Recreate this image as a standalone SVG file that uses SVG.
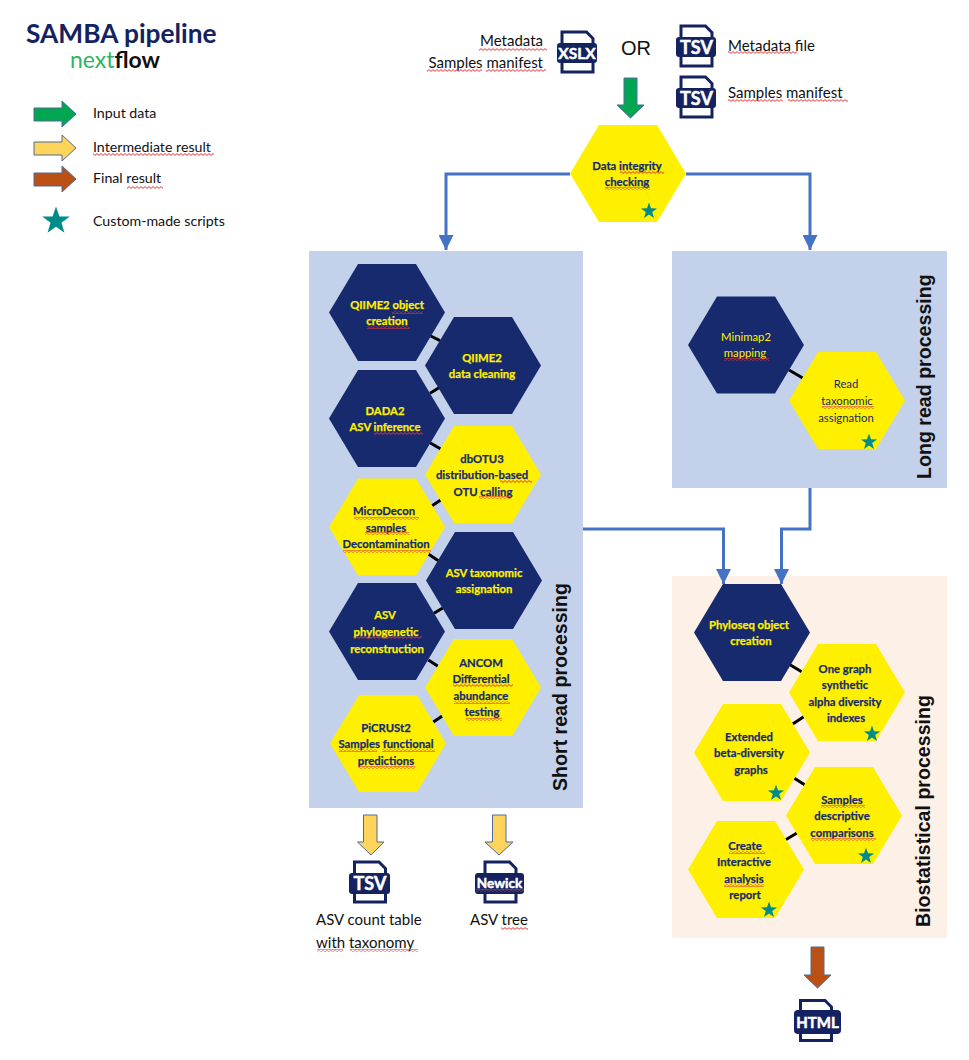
<svg xmlns="http://www.w3.org/2000/svg" xmlns:xlink="http://www.w3.org/1999/xlink" width="969" height="1060" viewBox="0 0 969 1060">
<style>
text{font-family:"Lato","Open Sans","Liberation Sans",sans-serif}
.hn{fill:#172a6e}.hy{fill:#fff000}
.t{font-size:11.3px;font-weight:700;text-anchor:middle;stroke-width:.25}
.tn{fill:#172a6e;stroke:#172a6e}.ty{fill:#fff000;stroke:#fff000}
.r{font-weight:400;stroke-width:0}
.lab{font-size:14.2px;fill:#111}
.lg{font-size:15px;fill:#111}
.side{font-family:"Liberation Sans",Arial,sans-serif;font-weight:700;font-size:19.6px;fill:#111}
.blue{fill:none;stroke:#4472c4;stroke-width:3;marker-end:url(#ah)}
.link{stroke:#000;stroke-width:3;fill:none}
.arr{stroke:#4c6a9c;stroke-width:1}
.pg{fill:#fff;stroke:#14235f;stroke-width:3}
.bd{fill:#14235f}
.ic{fill:#fff;stroke:#fff;stroke-width:.5;font-weight:700;text-anchor:middle}
.star{fill:#008b8b}
.sq{fill:url(#wave)}
</style>
<defs>
<marker id="ah" markerUnits="userSpaceOnUse" markerWidth="15" markerHeight="15" refX="15" refY="7.5" orient="auto"><path d="M0 0L15 7.5L0 15Z" fill="#4472c4"/></marker>
<pattern id="wave" patternUnits="userSpaceOnUse" width="4" height="3"><path d="M0 1.5L1 .6L3 2.4L4 1.5" fill="none" stroke="#e8323a" stroke-width="1"/></pattern>
<path id="hex" d="M-58 0L-29 -48.5H29L58 0L29 48.5H-29Z"/>
<path id="st" d="M0 -8.500L2 -2.700L8.100 -2.600L3.200 1L5 6.900L0 3.400L-5 6.900L-3.200 1L-8.100 -2.600L-2 -2.700Z" class="star"/>
<path id="pgi" d="M-15.500 -20H9L15.500 -13.500V20H-15.500Z" class="pg"/>
</defs>
<rect width="969" height="1060" fill="#fff"/>

<g id="panels">
<rect x="309" y="251" width="274" height="557" fill="#c3d1ea"/>
<rect x="672" y="251" width="275" height="237" fill="#c3d1ea"/>
<rect x="672" y="576" width="275" height="362" fill="#fdf0e7"/>
<text class="side" transform="translate(566.500 791) rotate(-90)">Short read processing</text>
<text class="side" transform="translate(931 479) rotate(-90)">Long read processing</text>
<text class="side" transform="translate(930 927) rotate(-90)">Biostatistical processing</text>
</g>

<g id="title">
<text x="26" y="43" font-size="26.300" font-weight="700" fill="#14235f">SAMBA pipeline</text>
<text x="70" y="68" font-size="23" font-weight="700" fill="#111"><tspan fill="#2fb464" font-weight="400">next</tspan>flow</text>
</g>

<g id="legend">
<path class="arr" fill="#00a650" d="M34 108H62V101L76 114L62 127V121H34Z"/>
<path class="arr" fill="#ffd45a" d="M34 142H62V135L76 148L62 161V155H34Z"/>
<path class="arr" fill="#bb5014" d="M34 173H62V166L76 179L62 192V186H34Z"/>
<use xlink:href="#st" transform="translate(56 221) scale(1.700)"/>
<text class="lab" x="93" y="118">Input data</text>
<text class="lab" x="93" y="152">Intermediate result</text>
<text class="lab" x="93" y="183">Final result</text>
<text class="lab" x="93" y="226">Custom-made scripts</text>
</g>

<g id="connectors">
<path class="blue" d="M570 174H446V250"/>
<path class="blue" d="M686 174H810V250"/>
<path class="blue" d="M583 529H723.500V584"/>
<path class="blue" d="M810 488V529H781.500V584"/>
<path class="link" d="M430.700 336L440 340.700M430 393.300L439 387.700M430 442.700L440.700 449M432 505.700L440.700 500M428.300 554L438.300 560.700M434 613.300L442.700 608M428.300 660L438 666.300M433.300 722L442.300 716M789 370L802.700 378M790 664.700L802 672M792.700 724L803.700 716.700M794 778L805 785M785.700 839.700L797 833"/>
</g>

<g id="inputs">
<text class="lg" x="543" y="46" text-anchor="end">Metadata</text>
<text class="lg" x="543" y="68" text-anchor="end">Samples manifest</text>
<g id="icon-xslx" transform="translate(577.500 52)"><use xlink:href="#pgi"/><rect class="bd" x="-20.500" y="-9" width="40" height="20" rx="3"/><text class="ic" y="6.500" x="-.5" font-size="15.500">XSLX</text></g>
<text x="621" y="55" font-size="20" fill="#111" style="font-family:'Liberation Sans',sans-serif">OR</text>
<g id="icon-tsv1" transform="translate(696.500 46)"><use xlink:href="#pgi"/><rect class="bd" x="-20.500" y="-9" width="40" height="20" rx="3"/><text class="ic" y="7.500" font-size="18">TSV</text></g>
<g id="icon-tsv2" transform="translate(696.500 97)"><use xlink:href="#pgi"/><rect class="bd" x="-20.500" y="-9" width="40" height="20" rx="3"/><text class="ic" y="7.500" font-size="18">TSV</text></g>
<text class="lg" x="728" y="51">Metadata file</text>
<text class="lg" x="728" y="98">Samples manifest</text>
<path class="arr" fill="#00a650" d="M624 78H637V105H644L630.500 118L617 105H624Z"/>
</g>

<g id="n-integrity"><use xlink:href="#hex" class="hy" x="628" y="173.500"/><text class="t tn" x="627" y="170">Data integrity</text><text class="t tn" x="627" y="186">checking</text><use xlink:href="#st" x="649" y="211"/></g>
<g id="n-qiime-object"><use xlink:href="#hex" class="hn" x="387" y="312.500"/><text class="t ty" x="387" y="309">QIIME2 object</text><text class="t ty" x="387" y="325">creation</text></g>
<g id="n-qiime-clean"><use xlink:href="#hex" class="hn" x="483" y="365.500"/><text class="t ty" x="482" y="362">QIIME2</text><text class="t ty" x="482" y="378">data cleaning</text></g>
<g id="n-dada2"><use xlink:href="#hex" class="hn" x="387" y="418.500"/><text class="t ty" x="385" y="415">DADA2</text><text class="t ty" x="385" y="431">ASV inference</text></g>
<g id="n-dbotu3"><use xlink:href="#hex" class="hy" x="483" y="474.500"/><text class="t tn" x="482" y="463">dbOTU3</text><text class="t tn" x="482" y="479">distribution-based</text><text class="t tn" x="483" y="496">OTU calling</text></g>
<g id="n-microdecon"><use xlink:href="#hex" class="hy" x="387" y="527"/><text class="t tn" x="384" y="515">MicroDecon</text><text class="t tn" x="386" y="532">samples</text><text class="t tn" x="386" y="548">Decontamination</text></g>
<g id="n-taxo"><use xlink:href="#hex" class="hn" x="484" y="580.500"/><text class="t ty" x="484" y="577">ASV taxonomic</text><text class="t ty" x="484" y="593">assignation</text></g>
<g id="n-phylo"><use xlink:href="#hex" class="hn" x="387" y="631.500"/><text class="t ty" x="385" y="619">ASV</text><text class="t ty" x="386" y="636">phylogenetic</text><text class="t ty" x="387" y="653">reconstruction</text></g>
<g id="n-ancom"><use xlink:href="#hex" class="hy" x="483" y="687.500"/><text class="t tn" x="481" y="667">ANCOM</text><text class="t tn" x="481" y="683">Differential</text><text class="t tn" x="481" y="700">abundance</text><text class="t tn" x="482" y="716">testing</text></g>
<g id="n-picrust"><use xlink:href="#hex" class="hy" x="388" y="743.500"/><text class="t tn" x="386" y="732">PiCRUSt2</text><text class="t tn" x="386" y="748">Samples functional</text><text class="t tn" x="386" y="765">predictions</text></g>
<g id="n-minimap"><use xlink:href="#hex" class="hn" x="746" y="345"/><text class="t ty r" x="746" y="341">Minimap2</text><text class="t ty r" x="745" y="357">mapping</text></g>
<g id="n-readtax"><use xlink:href="#hex" class="hy" x="847" y="400.500"/><text class="t tn r" x="846" y="388">Read</text><text class="t tn r" x="847" y="405">taxonomic</text><text class="t tn r" x="846" y="422">assignation</text><use xlink:href="#st" x="869" y="442"/></g>
<g id="n-phyloseq"><use xlink:href="#hex" class="hn" x="752" y="632.500"/><text class="t ty" x="749" y="629">Phyloseq object</text><text class="t ty" x="751" y="645">creation</text></g>
<g id="n-onegraph"><use xlink:href="#hex" class="hy" x="847" y="692.500"/><text class="t tn" x="845" y="673">One graph</text><text class="t tn" x="845" y="689">synthetic</text><text class="t tn" x="845" y="706">alpha diversity</text><text class="t tn" x="846" y="722">indexes</text><use xlink:href="#st" x="872" y="734"/></g>
<g id="n-extended"><use xlink:href="#hex" class="hy" x="752" y="752.500"/><text class="t tn" x="749" y="741">Extended</text><text class="t tn" x="749" y="757">beta-diversity</text><text class="t tn" x="751" y="774">graphs</text><use xlink:href="#st" x="776" y="793"/></g>
<g id="n-samples"><use xlink:href="#hex" class="hy" x="844" y="815.500"/><text class="t tn" x="842" y="804">Samples</text><text class="t tn" x="842" y="820">descriptive</text><text class="t tn" x="842" y="837">comparisons</text><use xlink:href="#st" x="866" y="856"/></g>
<g id="n-report"><use xlink:href="#hex" class="hy" x="746" y="869.500"/><text class="t tn" x="745" y="850">Create</text><text class="t tn" x="744" y="866">Interactive</text><text class="t tn" x="744" y="883">analysis</text><text class="t tn" x="745" y="899">report</text><use xlink:href="#st" x="769" y="910"/></g>

<g id="outputs">
<path class="arr" fill="#ffd45a" d="M363.500 815H377V842H384L371 855L357.500 842H363.500Z"/>
<path class="arr" fill="#ffd45a" d="M492.500 815H506V842H513L499 855L485 842H492.500Z"/>
<path class="arr" fill="#bb5014" d="M811 947H824V975H831L817.500 988L804 975H811Z"/>
<g id="icon-tsv3" transform="translate(370 882)"><use xlink:href="#pgi"/><rect class="bd" x="-21" y="-9" width="41" height="21" rx="3"/><text class="ic" y="8" font-size="18">TSV</text></g>
<g id="icon-newick" transform="translate(500.500 882)"><use xlink:href="#pgi"/><rect class="bd" x="-25.500" y="-9" width="49" height="21" rx="3"/><text class="ic" y="6" x="-1" font-size="13.500">Newick</text></g>
<g id="icon-html" transform="translate(816 1020.500)"><use xlink:href="#pgi"/><rect class="bd" x="-22" y="-10.500" width="47" height="24" rx="4"/><text class="ic" y="7" x="1.500" font-size="15">HTML</text></g>
<text class="lg" x="316" y="925">ASV count table</text>
<text class="lg" x="316" y="948">with taxonomy</text>
<text class="lg" x="470" y="925">ASV tree</text>
</g>

<g id="spellcheck-marks">
<rect class="sq" x="93" y="153" width="121" height="3"/><rect class="sq" x="127" y="186" width="36" height="3"/>
<rect class="sq" x="479" y="48" width="68" height="3"/><rect class="sq" x="427" y="69" width="55" height="3"/><rect class="sq" x="486" y="69" width="60" height="3"/>
<rect class="sq" x="728" y="51" width="69" height="3"/><rect class="sq" x="728" y="99" width="55" height="3"/><rect class="sq" x="788" y="99" width="60" height="3"/>
<rect class="sq" x="620" y="171" width="44" height="3"/><rect class="sq" x="605" y="187" width="45" height="3"/>
<rect class="sq" x="392" y="311" width="31" height="3"/><rect class="sq" x="367" y="326" width="43" height="3"/>
<rect class="sq" x="374" y="432" width="49" height="3"/><rect class="sq" x="500" y="480" width="32" height="3"/><rect class="sq" x="479" y="496" width="32" height="3"/>
<rect class="sq" x="354" y="517" width="65" height="3"/><rect class="sq" x="365" y="532" width="44" height="3"/><rect class="sq" x="343" y="550" width="88" height="3"/>
<rect class="sq" x="353" y="636" width="69" height="3"/>
<rect class="sq" x="453" y="684" width="60" height="3"/><rect class="sq" x="454" y="701" width="56" height="3"/><rect class="sq" x="466" y="718" width="36" height="3"/>
<rect class="sq" x="339" y="749" width="38" height="3"/><rect class="sq" x="382" y="749" width="53" height="3"/><rect class="sq" x="359" y="766" width="56" height="3"/>
<rect class="sq" x="724" y="358" width="45" height="3"/><rect class="sq" x="822" y="406" width="52" height="3"/>
<rect class="sq" x="821" y="805" width="44" height="3"/><rect class="sq" x="811" y="838" width="65" height="3"/>
<rect class="sq" x="729" y="851" width="36" height="3"/><rect class="sq" x="724" y="884" width="40" height="3"/>
<rect class="sq" x="476" y="889" width="48" height="3"/><rect class="sq" x="501" y="927" width="27" height="3"/><rect class="sq" x="317" y="949" width="26" height="3"/><rect class="sq" x="350" y="949" width="68" height="3"/>
</g>
</svg>
